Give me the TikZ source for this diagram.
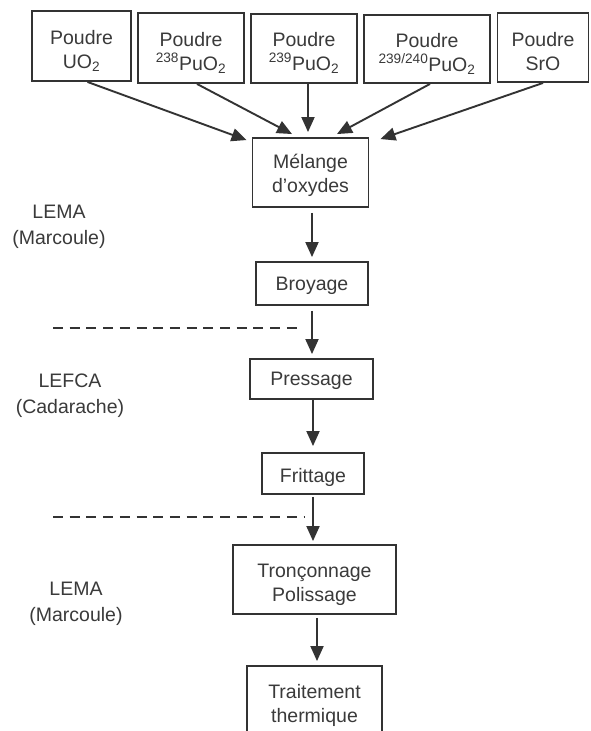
\documentclass[tikz,border=0pt]{standalone}
\usepackage{fontspec}
\setmainfont{Liberation Sans}
\usetikzlibrary{arrows.meta}
\definecolor{ink}{HTML}{333333}
\definecolor{txt}{HTML}{3A3A3A}
\begin{document}
\begin{tikzpicture}[x=1pt,y=-1pt,
  box/.style={draw=ink, line width=1.9pt, inner sep=0pt},
  boxtext/.style={text=txt, font=\fontsize{19.5}{24}\selectfont, align=center, inner sep=0pt},
  tx/.style 2 args={label={[boxtext, yshift=#1]center:{#2}}},
  arr/.style={draw=ink, line width=1.9pt, -{Triangle[length=15pt,width=13pt]}},
  lab/.style={text=txt, font=\fontsize{19.5}{26}\selectfont, align=center},
  sepline/.style={draw=ink, line width=1.4pt, dash pattern=on 10pt off 6.7pt}]
\useasboundingbox (0,0) rectangle (590,731);
\fill[white] (0,0) rectangle (590,731);

% top row
\node[box, minimum width=99pt, minimum height=70pt, tx={-4.5pt}{Poudre\\UO\textsubscript{2}}] (uo2) at (81.5,46) {};
\node[box, minimum width=106pt, minimum height=70pt, tx={-4.5pt}{Poudre\\\textsuperscript{238}PuO\textsubscript{2}}] (p238) at (191,48) {};
\node[box, minimum width=106pt, minimum height=69pt, tx={-4.5pt}{Poudre\\\textsuperscript{239}PuO\textsubscript{2}}] (p239) at (304,48.5) {};
\node[box, minimum width=126pt, minimum height=68pt, tx={-4.5pt}{Poudre\\\textsuperscript{239/240}PuO\textsubscript{2}}] (p240) at (427,49) {};
\node[box, minimum width=91pt, minimum height=69pt, tx={-4.5pt}{Poudre\\SrO}] (sro) at (543,47.5) {};

% chain
\node[box, minimum width=116pt, minimum height=69pt, tx={-3pt}{Mélange\\d’oxydes}] (mel) at (310.5,172.5) {};
\node[box, minimum width=112pt, minimum height=43pt, tx={-2.5pt}{Broyage}] (broy) at (312,283.5) {};
\node[box, minimum width=123pt, minimum height=40pt, tx={-1.5pt}{Pressage}] (press) at (311.5,379) {};
\node[box, minimum width=102pt, minimum height=41pt, tx={-3.5pt}{Frittage}] (fritt) at (313,473.5) {};
\node[box, minimum width=163pt, minimum height=69pt, tx={-5pt}{Tronçonnage\\Polissage}] (tron) at (314.5,579.5) {};
\node[box, minimum width=135pt, minimum height=76pt, tx={-1pt}{Traitement\\thermique}] (trait) at (314.5,704) {};

% left labels
\node[lab] (lema1) at (59,227) {LEMA\\(Marcoule)};
\node[lab] (lefca) at (70,396) {LEFCA\\(Cadarache)};
\node[lab] (lema2) at (76,604) {LEMA\\(Marcoule)};

% dashed separators
\coordinate (s1a) at (53,328);
\coordinate (s1b) at (303,328);
\coordinate (s2a) at (53,517);
\coordinate (s2b) at (304,517);
\draw[sepline] (s1a) -- (s1b);
\draw[sepline] (s2a) -- (s2b);

% converging arrows
\draw[arr] ([xshift=6pt]uo2.south) -- ([xshift=-5pt,yshift=-3pt]mel.north west);
\draw[arr] ([xshift=6pt]p238.south) -- ([xshift=-18.5pt,yshift=3pt]mel.north);
\draw[arr] ([xshift=4pt]p239.south) -- ([xshift=-2.5pt,yshift=5pt]mel.north);
\draw[arr] ([xshift=3pt]p240.south) -- ([xshift=26.5pt,yshift=3pt]mel.north);
\draw[arr] (sro.south) -- ([xshift=11pt,yshift=-2pt]mel.north east);

% vertical chain arrows
\draw[arr, shorten <=5pt] (mel.south -| broy) -- ([yshift=4pt]broy.north);
\draw[arr, shorten <=5pt] (broy.south) -- ([yshift=4pt]broy.south |- press.north);
\draw[arr] (press.south -| fritt) -- ([yshift=6pt]fritt.north);
\draw[arr, shorten <=2pt] (fritt.south) -- ([yshift=3pt]fritt.south |- tron.north);
\draw[arr, shorten <=3pt] ([xshift=2.5pt]tron.south) -- ([xshift=2.5pt,yshift=4pt]tron.south |- trait.north);
\end{tikzpicture}
\end{document}
